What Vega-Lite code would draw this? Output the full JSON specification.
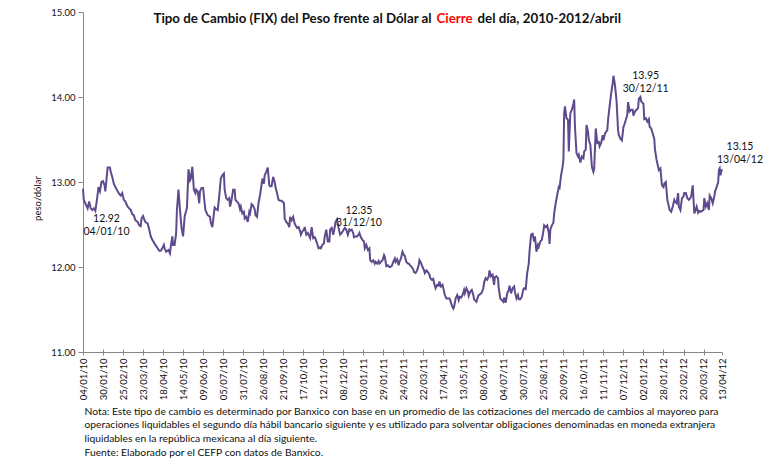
{
  "$schema": "https://vega.github.io/schema/vega-lite/v6.json",
  "width": 639,
  "height": 340,
  "autosize": {"type": "none"},
  "padding": {"left": 83, "top": 12, "right": 62, "bottom": 109},
  "background": "white",
  "config": {"view": {"stroke": null}, "font": "Lato", "text": {"font": "Lato"}},
  "datasets": {
    "lab": [
      {"d": "2010-01-04", "v": 12.92, "t": "12.92\n04/01/10"},
      {"d": "2010-12-31", "v": 12.35, "t": "12.35\n31/12/10"},
      {"d": "2011-12-30", "v": 13.95, "t": "13.95\n30/12/11"},
      {"d": "2012-04-13", "v": 13.15, "t": "13.15\n13/04/12"}
    ],
    "fix": [
{"d":"2010-01-04","v":12.92},{"d":"2010-01-05","v":12.79},{"d":"2010-01-07","v":12.75},{"d":"2010-01-10","v":12.69},{"d":"2010-01-12","v":12.77},{"d":"2010-01-14","v":12.69},{"d":"2010-01-16","v":12.67},{"d":"2010-01-18","v":12.69},{"d":"2010-01-20","v":12.66},{"d":"2010-01-23","v":12.85},{"d":"2010-01-24","v":12.94},{"d":"2010-01-26","v":12.89},{"d":"2010-01-28","v":13.00},{"d":"2010-01-30","v":13.01},
{"d":"2010-02-01","v":12.96},{"d":"2010-02-02","v":12.89},{"d":"2010-02-05","v":13.17},{"d":"2010-02-08","v":13.17},{"d":"2010-02-09","v":13.12},{"d":"2010-02-11","v":13.06},{"d":"2010-02-13","v":12.98},{"d":"2010-02-15","v":12.94},{"d":"2010-02-18","v":12.89},{"d":"2010-02-20","v":12.86},{"d":"2010-02-22","v":12.84},{"d":"2010-02-24","v":12.87},{"d":"2010-02-26","v":12.79},{"d":"2010-02-28","v":12.77},
{"d":"2010-03-03","v":12.71},{"d":"2010-03-05","v":12.69},{"d":"2010-03-07","v":12.67},{"d":"2010-03-09","v":12.62},{"d":"2010-03-11","v":12.61},{"d":"2010-03-13","v":12.55},{"d":"2010-03-16","v":12.53},{"d":"2010-03-18","v":12.49},{"d":"2010-03-20","v":12.48},{"d":"2010-03-21","v":12.57},{"d":"2010-03-23","v":12.60},{"d":"2010-03-25","v":12.55},{"d":"2010-03-26","v":12.53},{"d":"2010-03-29","v":12.51},{"d":"2010-03-31","v":12.44},
{"d":"2010-04-02","v":12.36},{"d":"2010-04-04","v":12.32},{"d":"2010-04-06","v":12.29},{"d":"2010-04-08","v":12.26},{"d":"2010-04-11","v":12.22},{"d":"2010-04-13","v":12.19},{"d":"2010-04-15","v":12.19},{"d":"2010-04-17","v":12.22},{"d":"2010-04-19","v":12.26},{"d":"2010-04-20","v":12.22},{"d":"2010-04-22","v":12.18},{"d":"2010-04-25","v":12.20},{"d":"2010-04-27","v":12.16},{"d":"2010-04-28","v":12.24},{"d":"2010-04-30","v":12.36},
{"d":"2010-05-01","v":12.26},{"d":"2010-05-03","v":12.26},{"d":"2010-05-05","v":12.40},{"d":"2010-05-06","v":12.67},{"d":"2010-05-08","v":12.91},{"d":"2010-05-10","v":12.67},{"d":"2010-05-12","v":12.46},{"d":"2010-05-14","v":12.36},{"d":"2010-05-16","v":12.59},{"d":"2010-05-17","v":12.63},{"d":"2010-05-19","v":12.69},{"d":"2010-05-21","v":13.15},{"d":"2010-05-23","v":13.02},{"d":"2010-05-24","v":13.04},{"d":"2010-05-26","v":13.18},{"d":"2010-05-28","v":12.91},{"d":"2010-05-30","v":12.87},{"d":"2010-05-31","v":12.91},
{"d":"2010-06-02","v":12.89},{"d":"2010-06-04","v":12.75},{"d":"2010-06-05","v":12.89},{"d":"2010-06-07","v":12.93},{"d":"2010-06-09","v":12.93},{"d":"2010-06-11","v":12.75},{"d":"2010-06-12","v":12.67},{"d":"2010-06-15","v":12.61},{"d":"2010-06-18","v":12.59},{"d":"2010-06-19","v":12.52},{"d":"2010-06-21","v":12.47},{"d":"2010-06-24","v":12.70},{"d":"2010-06-26","v":12.68},{"d":"2010-06-28","v":12.67},{"d":"2010-06-30","v":12.84},
{"d":"2010-07-02","v":13.04},{"d":"2010-07-04","v":13.08},{"d":"2010-07-06","v":13.10},{"d":"2010-07-07","v":12.91},{"d":"2010-07-09","v":12.81},{"d":"2010-07-11","v":12.79},{"d":"2010-07-13","v":12.81},{"d":"2010-07-14","v":12.71},{"d":"2010-07-16","v":12.79},{"d":"2010-07-18","v":12.91},{"d":"2010-07-20","v":12.91},{"d":"2010-07-21","v":12.79},{"d":"2010-07-23","v":12.77},{"d":"2010-07-25","v":12.75},{"d":"2010-07-27","v":12.68},{"d":"2010-07-28","v":12.71},{"d":"2010-07-30","v":12.63},
{"d":"2010-08-01","v":12.65},{"d":"2010-08-02","v":12.57},{"d":"2010-08-04","v":12.59},{"d":"2010-08-06","v":12.53},{"d":"2010-08-08","v":12.65},{"d":"2010-08-09","v":12.63},{"d":"2010-08-11","v":12.74},{"d":"2010-08-13","v":12.72},{"d":"2010-08-15","v":12.68},{"d":"2010-08-16","v":12.61},{"d":"2010-08-18","v":12.59},{"d":"2010-08-20","v":12.75},{"d":"2010-08-22","v":12.85},{"d":"2010-08-23","v":12.91},{"d":"2010-08-25","v":13.04},{"d":"2010-08-27","v":12.98},{"d":"2010-08-28","v":13.08},{"d":"2010-08-30","v":13.12},
{"d":"2010-09-01","v":13.17},{"d":"2010-09-03","v":12.96},{"d":"2010-09-04","v":12.95},{"d":"2010-09-06","v":12.95},{"d":"2010-09-08","v":13.06},{"d":"2010-09-10","v":13.00},{"d":"2010-09-11","v":12.94},{"d":"2010-09-13","v":12.87},{"d":"2010-09-15","v":12.79},{"d":"2010-09-17","v":12.78},{"d":"2010-09-19","v":12.78},{"d":"2010-09-22","v":12.75},{"d":"2010-09-23","v":12.57},{"d":"2010-09-25","v":12.53},{"d":"2010-09-27","v":12.51},{"d":"2010-09-29","v":12.47},{"d":"2010-09-30","v":12.59},
{"d":"2010-10-02","v":12.55},{"d":"2010-10-04","v":12.59},{"d":"2010-10-06","v":12.51},{"d":"2010-10-07","v":12.49},{"d":"2010-10-09","v":12.46},{"d":"2010-10-11","v":12.47},{"d":"2010-10-13","v":12.42},{"d":"2010-10-14","v":12.38},{"d":"2010-10-16","v":12.42},{"d":"2010-10-18","v":12.44},{"d":"2010-10-19","v":12.47},{"d":"2010-10-21","v":12.38},{"d":"2010-10-23","v":12.40},{"d":"2010-10-25","v":12.36},{"d":"2010-10-26","v":12.34},{"d":"2010-10-28","v":12.47},{"d":"2010-10-30","v":12.34},
{"d":"2010-11-01","v":12.35},{"d":"2010-11-02","v":12.33},{"d":"2010-11-04","v":12.28},{"d":"2010-11-06","v":12.22},{"d":"2010-11-08","v":12.23},{"d":"2010-11-09","v":12.22},{"d":"2010-11-11","v":12.26},{"d":"2010-11-13","v":12.28},{"d":"2010-11-14","v":12.36},{"d":"2010-11-16","v":12.44},{"d":"2010-11-18","v":12.30},{"d":"2010-11-20","v":12.30},{"d":"2010-11-21","v":12.44},{"d":"2010-11-23","v":12.46},{"d":"2010-11-25","v":12.38},{"d":"2010-11-27","v":12.47},{"d":"2010-11-28","v":12.53},{"d":"2010-11-30","v":12.56},
{"d":"2010-12-02","v":12.46},{"d":"2010-12-04","v":12.38},{"d":"2010-12-06","v":12.40},{"d":"2010-12-08","v":12.43},{"d":"2010-12-10","v":12.46},{"d":"2010-12-12","v":12.44},{"d":"2010-12-14","v":12.38},{"d":"2010-12-16","v":12.44},{"d":"2010-12-17","v":12.43},{"d":"2010-12-19","v":12.44},{"d":"2010-12-21","v":12.40},{"d":"2010-12-22","v":12.35},{"d":"2010-12-24","v":12.36},{"d":"2010-12-26","v":12.36},{"d":"2010-12-28","v":12.38},{"d":"2010-12-29","v":12.40},{"d":"2010-12-31","v":12.35},
{"d":"2011-01-02","v":12.32},{"d":"2011-01-04","v":12.30},{"d":"2011-01-05","v":12.22},{"d":"2011-01-07","v":12.26},{"d":"2011-01-09","v":12.20},{"d":"2011-01-11","v":12.22},{"d":"2011-01-12","v":12.08},{"d":"2011-01-14","v":12.06},{"d":"2011-01-16","v":12.08},{"d":"2011-01-18","v":12.04},{"d":"2011-01-19","v":12.06},{"d":"2011-01-21","v":12.04},{"d":"2011-01-23","v":12.07},{"d":"2011-01-24","v":12.04},{"d":"2011-01-26","v":12.06},{"d":"2011-01-28","v":12.08},{"d":"2011-01-30","v":12.14},{"d":"2011-01-31","v":12.12},
{"d":"2011-02-02","v":12.01},{"d":"2011-02-04","v":12.02},{"d":"2011-02-06","v":12.00},{"d":"2011-02-07","v":12.00},{"d":"2011-02-09","v":12.01},{"d":"2011-02-11","v":12.06},{"d":"2011-02-13","v":12.10},{"d":"2011-02-14","v":12.06},{"d":"2011-02-16","v":12.09},{"d":"2011-02-18","v":12.02},{"d":"2011-02-19","v":12.06},{"d":"2011-02-21","v":12.10},{"d":"2011-02-23","v":12.18},{"d":"2011-02-25","v":12.14},{"d":"2011-02-26","v":12.13},{"d":"2011-02-28","v":12.06},
{"d":"2011-03-02","v":12.04},{"d":"2011-03-03","v":12.04},{"d":"2011-03-05","v":12.02},{"d":"2011-03-07","v":12.00},{"d":"2011-03-09","v":11.97},{"d":"2011-03-10","v":11.94},{"d":"2011-03-12","v":11.93},{"d":"2011-03-14","v":11.96},{"d":"2011-03-16","v":12.02},{"d":"2011-03-17","v":12.08},{"d":"2011-03-19","v":12.05},{"d":"2011-03-21","v":12.00},{"d":"2011-03-23","v":11.96},{"d":"2011-03-24","v":11.93},{"d":"2011-03-26","v":11.96},{"d":"2011-03-28","v":11.94},{"d":"2011-03-30","v":11.91},{"d":"2011-03-31","v":11.87},
{"d":"2011-04-02","v":11.85},{"d":"2011-04-04","v":11.86},{"d":"2011-04-05","v":11.81},{"d":"2011-04-07","v":11.75},{"d":"2011-04-09","v":11.79},{"d":"2011-04-11","v":11.78},{"d":"2011-04-12","v":11.83},{"d":"2011-04-14","v":11.77},{"d":"2011-04-16","v":11.79},{"d":"2011-04-18","v":11.71},{"d":"2011-04-19","v":11.67},{"d":"2011-04-21","v":11.63},{"d":"2011-04-23","v":11.63},{"d":"2011-04-25","v":11.63},{"d":"2011-04-26","v":11.61},{"d":"2011-04-28","v":11.55},{"d":"2011-04-30","v":11.51},
{"d":"2011-05-01","v":11.53},{"d":"2011-05-03","v":11.63},{"d":"2011-05-05","v":11.67},{"d":"2011-05-07","v":11.61},{"d":"2011-05-08","v":11.65},{"d":"2011-05-10","v":11.64},{"d":"2011-05-12","v":11.67},{"d":"2011-05-14","v":11.73},{"d":"2011-05-15","v":11.69},{"d":"2011-05-17","v":11.75},{"d":"2011-05-19","v":11.71},{"d":"2011-05-20","v":11.66},{"d":"2011-05-22","v":11.71},{"d":"2011-05-24","v":11.73},{"d":"2011-05-26","v":11.67},{"d":"2011-05-27","v":11.62},{"d":"2011-05-30","v":11.59},
{"d":"2011-06-01","v":11.65},{"d":"2011-06-02","v":11.67},{"d":"2011-06-04","v":11.68},{"d":"2011-06-06","v":11.70},{"d":"2011-06-08","v":11.75},{"d":"2011-06-09","v":11.82},{"d":"2011-06-11","v":11.87},{"d":"2011-06-13","v":11.85},{"d":"2011-06-15","v":11.89},{"d":"2011-06-16","v":11.96},{"d":"2011-06-18","v":11.89},{"d":"2011-06-20","v":11.91},{"d":"2011-06-22","v":11.79},{"d":"2011-06-23","v":11.88},{"d":"2011-06-25","v":11.89},{"d":"2011-06-27","v":11.87},{"d":"2011-06-28","v":11.75},{"d":"2011-06-30","v":11.63},
{"d":"2011-07-02","v":11.61},{"d":"2011-07-04","v":11.59},{"d":"2011-07-05","v":11.64},{"d":"2011-07-07","v":11.58},{"d":"2011-07-09","v":11.69},{"d":"2011-07-11","v":11.73},{"d":"2011-07-12","v":11.78},{"d":"2011-07-14","v":11.69},{"d":"2011-07-16","v":11.75},{"d":"2011-07-18","v":11.77},{"d":"2011-07-19","v":11.71},{"d":"2011-07-21","v":11.63},{"d":"2011-07-23","v":11.67},{"d":"2011-07-24","v":11.62},{"d":"2011-07-26","v":11.62},{"d":"2011-07-28","v":11.65},{"d":"2011-07-30","v":11.74},{"d":"2011-07-31","v":11.75},
{"d":"2011-08-02","v":11.74},{"d":"2011-08-04","v":11.93},{"d":"2011-08-06","v":12.04},{"d":"2011-08-07","v":12.18},{"d":"2011-08-09","v":12.38},{"d":"2011-08-11","v":12.39},{"d":"2011-08-13","v":12.30},{"d":"2011-08-14","v":12.36},{"d":"2011-08-16","v":12.18},{"d":"2011-08-18","v":12.26},{"d":"2011-08-19","v":12.24},{"d":"2011-08-21","v":12.30},{"d":"2011-08-23","v":12.32},{"d":"2011-08-25","v":12.42},{"d":"2011-08-26","v":12.49},{"d":"2011-08-28","v":12.47},{"d":"2011-08-30","v":12.49},
{"d":"2011-09-01","v":12.40},{"d":"2011-09-02","v":12.27},{"d":"2011-09-03","v":12.44},{"d":"2011-09-05","v":12.49},{"d":"2011-09-07","v":12.52},{"d":"2011-09-08","v":12.63},{"d":"2011-09-10","v":12.75},{"d":"2011-09-12","v":12.85},{"d":"2011-09-14","v":12.94},{"d":"2011-09-15","v":12.93},{"d":"2011-09-17","v":13.08},{"d":"2011-09-19","v":13.18},{"d":"2011-09-20","v":13.26},{"d":"2011-09-21","v":13.81},{"d":"2011-09-22","v":13.89},{"d":"2011-09-24","v":13.75},{"d":"2011-09-26","v":13.73},{"d":"2011-09-27","v":13.36},{"d":"2011-09-29","v":13.81},
{"d":"2011-10-01","v":13.85},{"d":"2011-10-03","v":13.92},{"d":"2011-10-04","v":13.97},{"d":"2011-10-05","v":13.65},{"d":"2011-10-07","v":13.34},{"d":"2011-10-09","v":13.30},{"d":"2011-10-10","v":13.32},{"d":"2011-10-12","v":13.23},{"d":"2011-10-14","v":13.30},{"d":"2011-10-16","v":13.28},{"d":"2011-10-17","v":13.36},{"d":"2011-10-19","v":13.38},{"d":"2011-10-20","v":13.67},{"d":"2011-10-22","v":13.59},{"d":"2011-10-23","v":13.49},{"d":"2011-10-25","v":13.44},{"d":"2011-10-27","v":13.18},{"d":"2011-10-29","v":13.12},{"d":"2011-10-30","v":13.16},
{"d":"2011-11-01","v":13.63},{"d":"2011-11-03","v":13.46},{"d":"2011-11-05","v":13.47},{"d":"2011-11-06","v":13.42},{"d":"2011-11-08","v":13.46},{"d":"2011-11-10","v":13.55},{"d":"2011-11-11","v":13.49},{"d":"2011-11-13","v":13.57},{"d":"2011-11-16","v":13.61},{"d":"2011-11-17","v":13.73},{"d":"2011-11-19","v":13.89},{"d":"2011-11-21","v":14.04},{"d":"2011-11-23","v":14.16},{"d":"2011-11-24","v":14.25},{"d":"2011-11-26","v":14.14},{"d":"2011-11-28","v":13.96},{"d":"2011-11-30","v":13.61},
{"d":"2011-12-01","v":13.55},{"d":"2011-12-03","v":13.51},{"d":"2011-12-05","v":13.49},{"d":"2011-12-07","v":13.65},{"d":"2011-12-08","v":13.67},{"d":"2011-12-10","v":13.73},{"d":"2011-12-12","v":13.79},{"d":"2011-12-13","v":13.94},{"d":"2011-12-15","v":13.83},{"d":"2011-12-17","v":13.85},{"d":"2011-12-19","v":13.85},{"d":"2011-12-20","v":13.78},{"d":"2011-12-22","v":13.83},{"d":"2011-12-24","v":13.85},{"d":"2011-12-26","v":13.87},{"d":"2011-12-27","v":13.98},{"d":"2011-12-29","v":14.00},{"d":"2011-12-30","v":13.95},
{"d":"2012-01-02","v":13.92},{"d":"2012-01-03","v":13.74},{"d":"2012-01-05","v":13.75},{"d":"2012-01-07","v":13.71},{"d":"2012-01-09","v":13.74},{"d":"2012-01-10","v":13.65},{"d":"2012-01-12","v":13.63},{"d":"2012-01-14","v":13.57},{"d":"2012-01-16","v":13.51},{"d":"2012-01-17","v":13.38},{"d":"2012-01-19","v":13.26},{"d":"2012-01-21","v":13.18},{"d":"2012-01-22","v":13.14},{"d":"2012-01-24","v":13.16},{"d":"2012-01-26","v":12.96},{"d":"2012-01-28","v":12.94},{"d":"2012-01-29","v":12.98},{"d":"2012-01-31","v":13.00},
{"d":"2012-02-02","v":12.79},{"d":"2012-02-04","v":12.71},{"d":"2012-02-05","v":12.67},{"d":"2012-02-07","v":12.65},{"d":"2012-02-09","v":12.71},{"d":"2012-02-11","v":12.79},{"d":"2012-02-12","v":12.77},{"d":"2012-02-14","v":12.75},{"d":"2012-02-16","v":12.87},{"d":"2012-02-17","v":12.71},{"d":"2012-02-19","v":12.67},{"d":"2012-02-21","v":12.81},{"d":"2012-02-23","v":12.83},{"d":"2012-02-24","v":12.87},{"d":"2012-02-26","v":12.87},{"d":"2012-02-28","v":12.81},
{"d":"2012-03-01","v":12.79},{"d":"2012-03-02","v":12.80},{"d":"2012-03-04","v":12.83},{"d":"2012-03-06","v":12.96},{"d":"2012-03-08","v":12.63},{"d":"2012-03-09","v":12.65},{"d":"2012-03-11","v":12.71},{"d":"2012-03-13","v":12.64},{"d":"2012-03-14","v":12.66},{"d":"2012-03-16","v":12.65},{"d":"2012-03-18","v":12.66},{"d":"2012-03-20","v":12.67},{"d":"2012-03-21","v":12.81},{"d":"2012-03-23","v":12.71},{"d":"2012-03-25","v":12.75},{"d":"2012-03-27","v":12.67},{"d":"2012-03-28","v":12.84},{"d":"2012-03-30","v":12.81},
{"d":"2012-04-01","v":12.75},{"d":"2012-04-03","v":12.83},{"d":"2012-04-04","v":12.89},{"d":"2012-04-06","v":12.94},{"d":"2012-04-08","v":13.00},{"d":"2012-04-09","v":13.14},{"d":"2012-04-10","v":13.16},{"d":"2012-04-11","v":13.08},{"d":"2012-04-12","v":13.12},{"d":"2012-04-13","v":13.15}
    ]
  },
  "layer": [
    {
      "data": {"name": "fix"},
      "mark": {"type": "line", "color": "#5E4A8C", "strokeWidth": 2},
      "encoding": {
        "x": {
          "field": "d", "type": "temporal",
          "scale": {"type": "utc", "nice": false, "domain": [{"year": 2010, "month": 1, "date": 4, "utc": true}, {"year": 2012, "month": 4, "date": 13, "utc": true}]},
          "axis": {
            "orient": "bottom",
            "values": [
              {"year": 2010, "month": 1, "date": 4, "utc": true}, {"year": 2010, "month": 1, "date": 30, "utc": true}, {"year": 2010, "month": 2, "date": 25, "utc": true}, {"year": 2010, "month": 3, "date": 23, "utc": true}, {"year": 2010, "month": 4, "date": 18, "utc": true}, {"year": 2010, "month": 5, "date": 14, "utc": true}, {"year": 2010, "month": 6, "date": 9, "utc": true}, {"year": 2010, "month": 7, "date": 5, "utc": true}, {"year": 2010, "month": 7, "date": 31, "utc": true}, {"year": 2010, "month": 8, "date": 26, "utc": true}, {"year": 2010, "month": 9, "date": 21, "utc": true}, {"year": 2010, "month": 10, "date": 17, "utc": true}, {"year": 2010, "month": 11, "date": 12, "utc": true}, {"year": 2010, "month": 12, "date": 8, "utc": true},
              {"year": 2011, "month": 1, "date": 3, "utc": true}, {"year": 2011, "month": 1, "date": 29, "utc": true}, {"year": 2011, "month": 2, "date": 24, "utc": true}, {"year": 2011, "month": 3, "date": 22, "utc": true}, {"year": 2011, "month": 4, "date": 17, "utc": true}, {"year": 2011, "month": 5, "date": 13, "utc": true}, {"year": 2011, "month": 6, "date": 8, "utc": true}, {"year": 2011, "month": 7, "date": 4, "utc": true}, {"year": 2011, "month": 7, "date": 30, "utc": true}, {"year": 2011, "month": 8, "date": 25, "utc": true}, {"year": 2011, "month": 9, "date": 20, "utc": true}, {"year": 2011, "month": 10, "date": 16, "utc": true}, {"year": 2011, "month": 11, "date": 11, "utc": true}, {"year": 2011, "month": 12, "date": 7, "utc": true},
              {"year": 2012, "month": 1, "date": 2, "utc": true}, {"year": 2012, "month": 1, "date": 28, "utc": true}, {"year": 2012, "month": 2, "date": 23, "utc": true}, {"year": 2012, "month": 3, "date": 20, "utc": true}, {"year": 2012, "month": 4, "date": 13, "utc": true}
            ],
            "format": "%d/%m/%y",
            "labelAngle": 270,
            "labelFontSize": 9.5,
            "labelColor": "#111111",
            "labelPadding": 3,
            "labelOverlap": false,
            "labelFlush": false,
            "tickSize": 3,
            "tickColor": "#868686",
            "domainColor": "#868686",
            "grid": false,
            "title": [
              "Nota: Este tipo de cambio es determinado por Banxico con base en un promedio de las cotizaciones del mercado de cambios al mayoreo para",
              "operaciones liquidables el segundo día hábil bancario siguiente y es utilizado  para solventar obligaciones denominadas en moneda extranjera",
              "liquidables en la república mexicana al día siguiente.",
              "Fuente: Elaborado por el CEFP con datos de Banxico."
            ],
            "titleAngle": 0,
            "titleAlign": "left",
            "titleBaseline": "top",
            "titleX": 1,
            "titleY": 54,
            "titleFontSize": 10.3,
            "titleFontWeight": "normal",
            "titleLineHeight": 13.8,
            "titleColor": "#111111"
          }
        },
        "y": {
          "field": "v", "type": "quantitative",
          "scale": {"domain": [11, 15], "zero": false, "nice": false},
          "axis": {
            "values": [11, 12, 13, 14, 15],
            "format": ".2f",
            "tickSize": 5,
            "labelFontSize": 9.5,
            "labelColor": "#111111",
            "labelPadding": 3,
            "tickColor": "#868686",
            "domainColor": "#868686",
            "grid": false,
            "title": "peso/dólar",
            "titleAngle": 270,
            "titleAlign": "center",
            "titleBaseline": "middle",
            "titleX": -46,
            "titleY": 186,
            "titleFontSize": 9.5,
            "titleFontWeight": "normal",
            "titleColor": "#111111"
          }
        }
      }
    },
    {
      "data": {"name": "lab"},
      "transform": [{"filter": "datum.v == 12.35"}],
      "mark": {"type": "text", "dx": -2, "dy": -26.5, "fontSize": 10.5, "lineBreak": "\n", "lineHeight": 12.5, "align": "center", "baseline": "middle", "color": "#111111"},
      "encoding": {
        "x": {"field": "d", "type": "temporal", "scale": {"type": "utc"},
          "axis": {"orient": "top", "domain": false, "ticks": false, "labels": false, "grid": false,
            "title": "Tipo de Cambio (FIX) del Peso frente al Dólar al",
            "titleX": 70, "titleY": 6, "titleAngle": 0, "titleAlign": "left", "titleBaseline": "middle",
            "titleFontSize": 13.3, "titleFontWeight": "bold", "titleColor": "#111111"}},
        "y": {"field": "v", "type": "quantitative", "axis": null},
        "text": {"field": "t"}
      }
    },
    {
      "data": {"name": "lab"},
      "transform": [{"filter": "datum.v == 13.95"}],
      "mark": {"type": "text", "dx": 4.5, "dy": -25, "fontSize": 10.5, "lineBreak": "\n", "lineHeight": 12.5, "align": "center", "baseline": "middle", "color": "#111111"},
      "encoding": {
        "x": {"field": "d", "type": "temporal", "scale": {"type": "utc"},
          "axis": {"orient": "top", "domain": false, "ticks": false, "labels": false, "grid": false,
            "title": "Cierre",
            "titleX": 353, "titleY": 6, "titleAngle": 0, "titleAlign": "left", "titleBaseline": "middle",
            "titleFontSize": 13.3, "titleFontWeight": "bold", "titleColor": "#FF0000"}},
        "y": {"field": "v", "type": "quantitative", "axis": null},
        "text": {"field": "t"}
      }
    },
    {
      "data": {"name": "lab"},
      "transform": [{"filter": "datum.v == 13.15"}],
      "mark": {"type": "text", "dx": 18, "dy": -22, "fontSize": 10.5, "lineBreak": "\n", "lineHeight": 12.5, "align": "center", "baseline": "middle", "color": "#111111"},
      "encoding": {
        "x": {"field": "d", "type": "temporal", "scale": {"type": "utc"},
          "axis": {"orient": "top", "domain": false, "ticks": false, "labels": false, "grid": false,
            "title": "del día, 2010-2012/abril",
            "titleX": 394, "titleY": 6, "titleAngle": 0, "titleAlign": "left", "titleBaseline": "middle",
            "titleFontSize": 13.3, "titleFontWeight": "bold", "titleColor": "#111111"}},
        "y": {"field": "v", "type": "quantitative", "axis": null},
        "text": {"field": "t"}
      }
    },
    {
      "data": {"name": "lab"},
      "transform": [{"filter": "datum.v == 12.92"}],
      "mark": {"type": "text", "dx": 23.5, "dy": 30.5, "fontSize": 10.5, "lineBreak": "\n", "lineHeight": 12.5, "align": "center", "baseline": "middle", "color": "#111111"},
      "encoding": {
        "x": {"field": "d", "type": "temporal", "scale": {"type": "utc"},
          "axis": {"orient": "bottom", "domain": false, "labels": false, "grid": false, "ticks": true, "tickSize": -3, "tickColor": "#868686", "title": null,
            "values": [
              {"year": 2010, "month": 1, "date": 30, "utc": true}, {"year": 2010, "month": 2, "date": 25, "utc": true}, {"year": 2010, "month": 3, "date": 23, "utc": true}, {"year": 2010, "month": 4, "date": 18, "utc": true}, {"year": 2010, "month": 5, "date": 14, "utc": true}, {"year": 2010, "month": 6, "date": 9, "utc": true}, {"year": 2010, "month": 7, "date": 5, "utc": true}, {"year": 2010, "month": 7, "date": 31, "utc": true}, {"year": 2010, "month": 8, "date": 26, "utc": true}, {"year": 2010, "month": 9, "date": 21, "utc": true}, {"year": 2010, "month": 10, "date": 17, "utc": true}, {"year": 2010, "month": 11, "date": 12, "utc": true}, {"year": 2010, "month": 12, "date": 8, "utc": true},
              {"year": 2011, "month": 1, "date": 3, "utc": true}, {"year": 2011, "month": 1, "date": 29, "utc": true}, {"year": 2011, "month": 2, "date": 24, "utc": true}, {"year": 2011, "month": 3, "date": 22, "utc": true}, {"year": 2011, "month": 4, "date": 17, "utc": true}, {"year": 2011, "month": 5, "date": 13, "utc": true}, {"year": 2011, "month": 6, "date": 8, "utc": true}, {"year": 2011, "month": 7, "date": 4, "utc": true}, {"year": 2011, "month": 7, "date": 30, "utc": true}, {"year": 2011, "month": 8, "date": 25, "utc": true}, {"year": 2011, "month": 9, "date": 20, "utc": true}, {"year": 2011, "month": 10, "date": 16, "utc": true}, {"year": 2011, "month": 11, "date": 11, "utc": true}, {"year": 2011, "month": 12, "date": 7, "utc": true},
              {"year": 2012, "month": 1, "date": 2, "utc": true}, {"year": 2012, "month": 1, "date": 28, "utc": true}, {"year": 2012, "month": 2, "date": 23, "utc": true}, {"year": 2012, "month": 3, "date": 20, "utc": true}
            ]}},
        "y": {"field": "v", "type": "quantitative", "axis": null},
        "text": {"field": "t"}
      }
    }
  ],
  "resolve": {"axis": {"x": "independent", "y": "independent"}}
}
